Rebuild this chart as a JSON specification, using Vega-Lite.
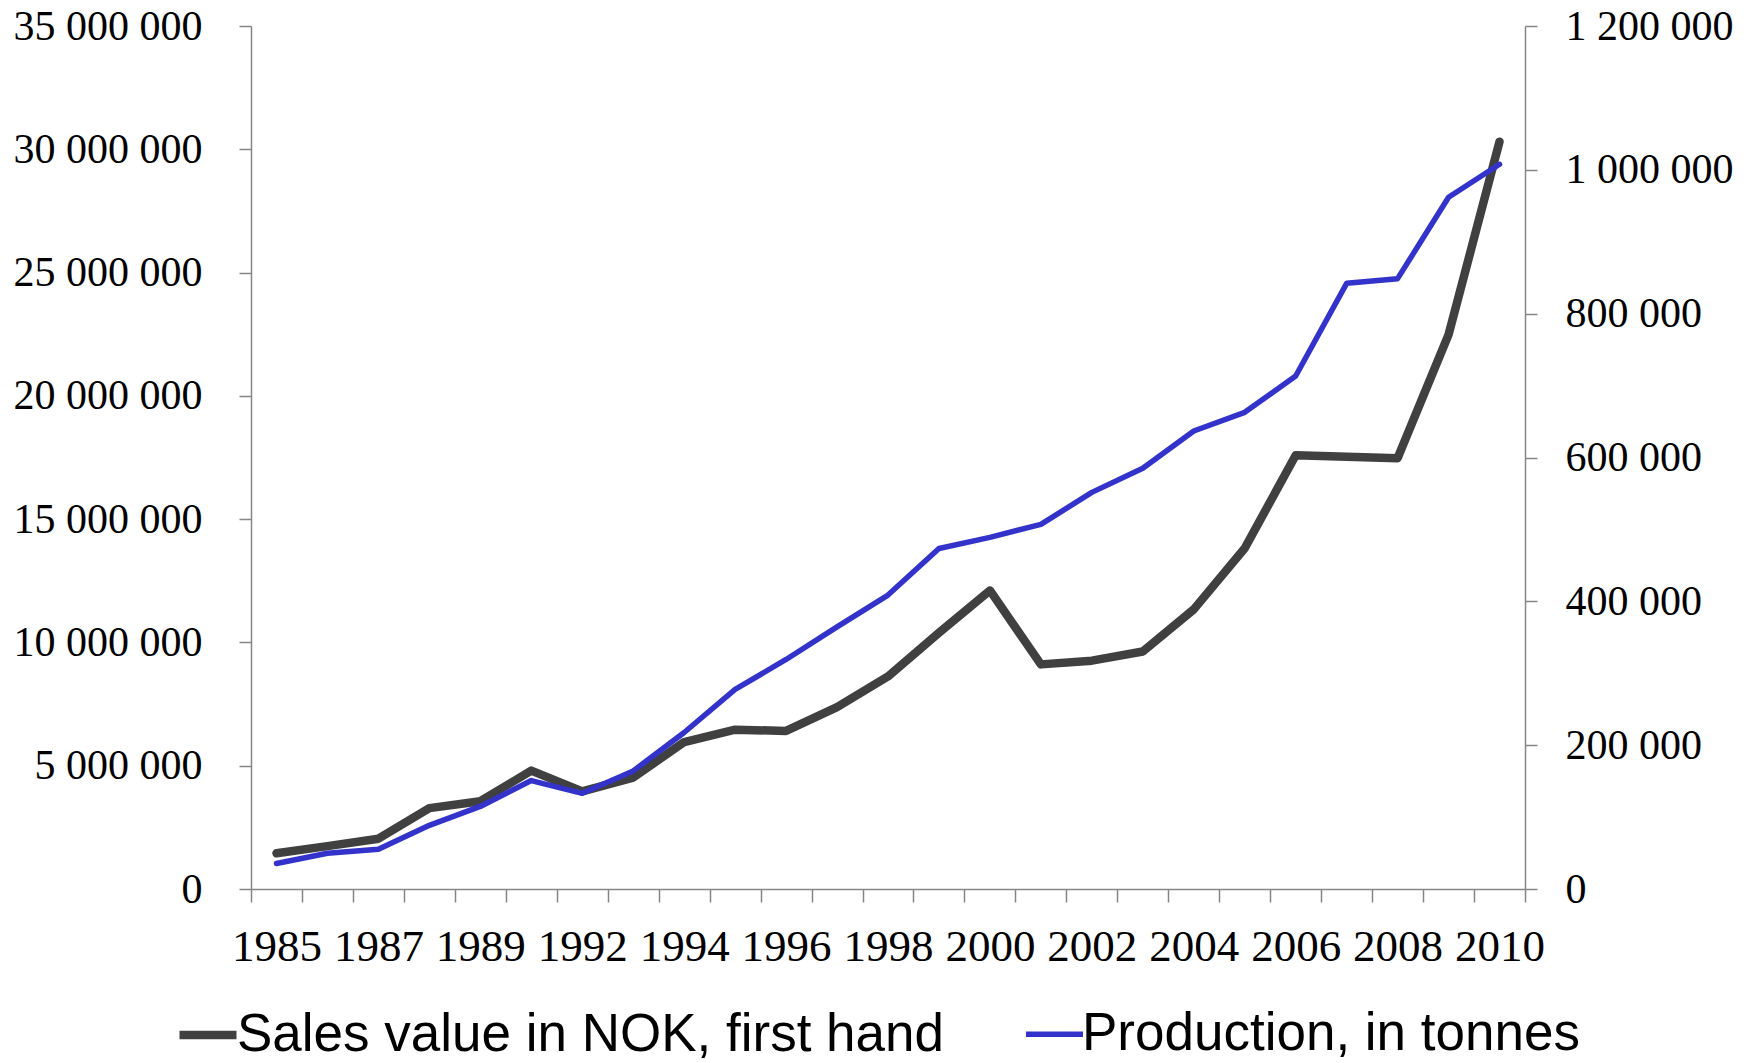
{
  "$schema": "https://vega.github.io/schema/vega-lite/v6.json",
  "width": 1274,
  "height": 863,
  "autosize": {"type": "none"},
  "padding": {"left": 251, "top": 26, "right": 227, "bottom": 174},
  "background": "white",
  "config": {
    "locale": {"number": {"decimal": ",", "thousands": " ", "grouping": [3], "currency": ["", ""]}},
    "view": {"stroke": null},
    "axis": {"domainColor": "#868686", "tickColor": "#868686", "domainWidth": 1.5, "tickWidth": 1.5, "grid": false, "labelFont": "Liberation Serif", "labelColor": "#000000", "labelLimit": 500, "title": null},
    "legend": {"orient": "none", "legendX": -76, "legendY": 976, "direction": "horizontal", "symbolType": "stroke", "symbolSize": 3249, "labelFont": "Liberation Sans", "labelFontSize": 53, "labelColor": "#000000", "labelOffset": -4, "columnPadding": 70, "labelLimit": 1200, "padding": 0, "offset": 0, "title": null}
  },
  "data": {
    "values": [
      {"year": "1985", "series": "Sales value in NOK, first hand", "value": 1450000},
      {"year": "1986", "series": "Sales value in NOK, first hand", "value": 1740000},
      {"year": "1987", "series": "Sales value in NOK, first hand", "value": 2040000},
      {"year": "1988", "series": "Sales value in NOK, first hand", "value": 3280000},
      {"year": "1989", "series": "Sales value in NOK, first hand", "value": 3560000},
      {"year": "1990", "series": "Sales value in NOK, first hand", "value": 4800000},
      {"year": "1992", "series": "Sales value in NOK, first hand", "value": 3960000},
      {"year": "1993", "series": "Sales value in NOK, first hand", "value": 4520000},
      {"year": "1994", "series": "Sales value in NOK, first hand", "value": 5960000},
      {"year": "1995", "series": "Sales value in NOK, first hand", "value": 6460000},
      {"year": "1996", "series": "Sales value in NOK, first hand", "value": 6410000},
      {"year": "1997", "series": "Sales value in NOK, first hand", "value": 7380000},
      {"year": "1998", "series": "Sales value in NOK, first hand", "value": 8620000},
      {"year": "1999", "series": "Sales value in NOK, first hand", "value": 10390000},
      {"year": "2000", "series": "Sales value in NOK, first hand", "value": 12110000},
      {"year": "2001", "series": "Sales value in NOK, first hand", "value": 9110000},
      {"year": "2002", "series": "Sales value in NOK, first hand", "value": 9260000},
      {"year": "2003", "series": "Sales value in NOK, first hand", "value": 9630000},
      {"year": "2004", "series": "Sales value in NOK, first hand", "value": 11340000},
      {"year": "2005", "series": "Sales value in NOK, first hand", "value": 13820000},
      {"year": "2006", "series": "Sales value in NOK, first hand", "value": 17590000},
      {"year": "2007", "series": "Sales value in NOK, first hand", "value": 17530000},
      {"year": "2008", "series": "Sales value in NOK, first hand", "value": 17470000},
      {"year": "2009", "series": "Sales value in NOK, first hand", "value": 22480000},
      {"year": "2010", "series": "Sales value in NOK, first hand", "value": 30310000},
      {"year": "1985", "series": "Production, in tonnes", "value": 35500},
      {"year": "1986", "series": "Production, in tonnes", "value": 49800},
      {"year": "1987", "series": "Production, in tonnes", "value": 55200},
      {"year": "1988", "series": "Production, in tonnes", "value": 88500},
      {"year": "1989", "series": "Production, in tonnes", "value": 114800},
      {"year": "1990", "series": "Production, in tonnes", "value": 150800},
      {"year": "1992", "series": "Production, in tonnes", "value": 133000},
      {"year": "1993", "series": "Production, in tonnes", "value": 164200},
      {"year": "1994", "series": "Production, in tonnes", "value": 217600},
      {"year": "1995", "series": "Production, in tonnes", "value": 277500},
      {"year": "1996", "series": "Production, in tonnes", "value": 319200},
      {"year": "1997", "series": "Production, in tonnes", "value": 364500},
      {"year": "1998", "series": "Production, in tonnes", "value": 408700},
      {"year": "1999", "series": "Production, in tonnes", "value": 473500},
      {"year": "2000", "series": "Production, in tonnes", "value": 489000},
      {"year": "2001", "series": "Production, in tonnes", "value": 507000},
      {"year": "2002", "series": "Production, in tonnes", "value": 551500},
      {"year": "2003", "series": "Production, in tonnes", "value": 585000},
      {"year": "2004", "series": "Production, in tonnes", "value": 636800},
      {"year": "2005", "series": "Production, in tonnes", "value": 662800},
      {"year": "2006", "series": "Production, in tonnes", "value": 713300},
      {"year": "2007", "series": "Production, in tonnes", "value": 842200},
      {"year": "2008", "series": "Production, in tonnes", "value": 848700},
      {"year": "2009", "series": "Production, in tonnes", "value": 961800},
      {"year": "2010", "series": "Production, in tonnes", "value": 1007700}
    ]
  },
  "encoding": {
    "x": {
      "field": "year",
      "type": "ordinal",
      "bandPosition": 0.5,
      "scale": {"type": "band", "paddingInner": 0, "paddingOuter": 0},
      "axis": {
        "labelFontSize": 45,
        "tickSize": 13,
        "labelPadding": 22,
        "tickBand": "extent",
        "labelAngle": 0,
        "labelOverlap": false,
        "labelExpr": "indexof(['1985','1987','1989','1992','1994','1996','1998','2000','2002','2004','2006','2008','2010'], datum.label) >= 0 ? datum.label : ''"
      }
    }
  },
  "layer": [
    {
      "transform": [{"filter": "datum.series === 'Sales value in NOK, first hand'"}],
      "mark": {"type": "line", "strokeCap": "round", "strokeJoin": "round"},
      "encoding": {
        "y": {
          "field": "value",
          "type": "quantitative",
          "scale": {"domain": [0, 35000000], "nice": false, "zero": true},
          "axis": {"orient": "left", "values": [0, 5000000, 10000000, 15000000, 20000000, 25000000, 30000000, 35000000], "format": ",d", "labelFontSize": 42, "tickSize": 12, "labelPadding": 37}
        },
        "color": {
          "field": "series",
          "type": "nominal",
          "sort": null,
          "scale": {"domain": ["Sales value in NOK, first hand", "Production, in tonnes"], "range": ["#404040", "#3333CC"]}
        },
        "strokeWidth": {
          "field": "series",
          "type": "nominal",
          "sort": null,
          "scale": {"domain": ["Sales value in NOK, first hand", "Production, in tonnes"], "range": [8.5, 5.5]}
        }
      }
    },
    {
      "transform": [{"filter": "datum.series === 'Production, in tonnes'"}],
      "mark": {"type": "line", "strokeCap": "round", "strokeJoin": "round"},
      "encoding": {
        "y": {
          "field": "value",
          "type": "quantitative",
          "scale": {"domain": [0, 1200000], "nice": false, "zero": true},
          "axis": {"orient": "right", "values": [0, 200000, 400000, 600000, 800000, 1000000, 1200000], "format": ",d", "labelFontSize": 42, "tickSize": 12, "labelPadding": 28}
        },
        "color": {
          "field": "series",
          "type": "nominal",
          "sort": null,
          "scale": {"domain": ["Sales value in NOK, first hand", "Production, in tonnes"], "range": ["#404040", "#3333CC"]}
        },
        "strokeWidth": {
          "field": "series",
          "type": "nominal",
          "sort": null,
          "scale": {"domain": ["Sales value in NOK, first hand", "Production, in tonnes"], "range": [8.5, 5.5]}
        }
      }
    }
  ],
  "resolve": {"scale": {"y": "independent"}}
}
